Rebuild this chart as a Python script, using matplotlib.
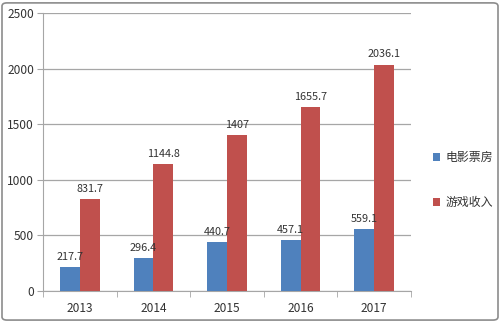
import numpy as np
import matplotlib
matplotlib.use('Agg')
import matplotlib.pyplot as plt
from matplotlib.patches import FancyBboxPatch

plt.rcParams['font.family'] = ['Noto Sans CJK SC', 'DejaVu Sans']

years = ['2013', '2014', '2015', '2016', '2017']
box_office = [217.7, 296.4, 440.7, 457.1, 559.1]
game_revenue = [831.7, 1144.8, 1407, 1655.7, 2036.1]
box_labels = ['217.7', '296.4', '440.7', '457.1', '559.1']
game_labels = ['831.7', '1144.8', '1407', '1655.7', '2036.1']

blue = '#4f81bd'
red = '#c0504d'
text_c = '#333333'
grid_c = '#a6a6a6'

fig = plt.figure(figsize=(5, 3.22), dpi=100)
ax = fig.add_axes([0.086, 0.096, 0.736, 0.864])

x = np.arange(len(years))
w = 0.27
b1 = ax.bar(x - w / 2, box_office, w, color=blue, label='电影票房', zorder=3)
b2 = ax.bar(x + w / 2, game_revenue, w, color=red, label='游戏收入', zorder=3)

for rect, s in zip(b1, box_labels):
    ax.text(rect.get_x() + rect.get_width() / 2, rect.get_height() + 45, s,
            ha='center', va='bottom', fontsize=7.8, color=text_c, zorder=4)
for rect, s in zip(b2, game_labels):
    ax.text(rect.get_x() + rect.get_width() / 2, rect.get_height() + 45, s,
            ha='center', va='bottom', fontsize=7.8, color=text_c, zorder=4)

ax.set_xlim(-0.5, len(years) - 0.5)
ax.set_ylim(0, 2500)
ax.set_yticks(range(0, 2501, 500))
ax.set_xticks(x)
ax.set_xticklabels(years)
ax.set_xticks(np.arange(-0.5, len(years), 1), minor=True)
ax.tick_params(axis='x', which='major', length=0, pad=8, labelsize=8.6, labelcolor=text_c)
ax.tick_params(axis='x', which='minor', length=4, color=grid_c, direction='out')
ax.tick_params(axis='y', length=4, color=grid_c, pad=2.5, labelsize=8.6, labelcolor=text_c)

ax.grid(axis='y', color=grid_c, linewidth=0.9, zorder=0)
for side in ['top', 'right']:
    ax.spines[side].set_visible(False)
ax.spines['left'].set_color(grid_c)
ax.spines['bottom'].set_color(grid_c)

leg = fig.legend(handles=[b1, b2], loc='center left', bbox_to_anchor=(0.845, 0.44),
                 frameon=False, fontsize=8.6, handlelength=0.6, handleheight=0.6,
                 handletextpad=0.4, labelspacing=2.7, labelcolor=text_c)

# rounded frame around the whole chart
fig.patches.append(FancyBboxPatch((0.004, 0.006), 0.992, 0.985,
                                  boxstyle='round,pad=0,rounding_size=0.01',
                                  transform=fig.transFigure, fill=False,
                                  edgecolor='#8c8c8c', linewidth=1.2))

fig.savefig('out.png', dpi=100)
